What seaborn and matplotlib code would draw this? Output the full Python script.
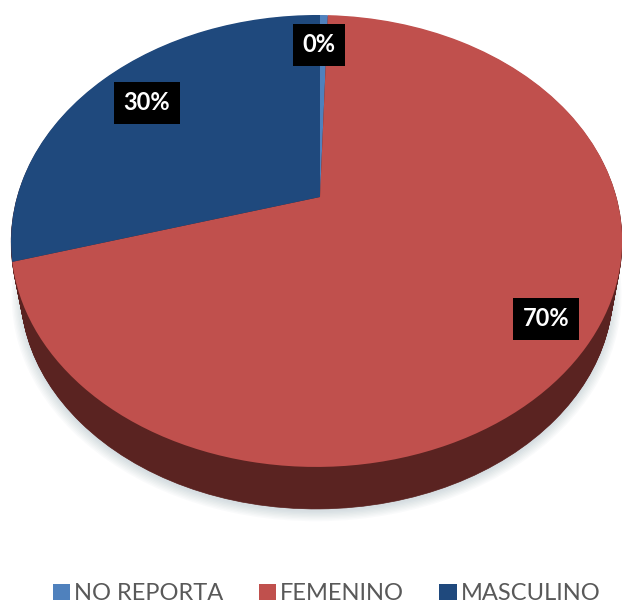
import matplotlib
matplotlib.use('Agg')
import matplotlib.pyplot as plt
import seaborn as sns
import numpy as np
from matplotlib.patches import Circle
from matplotlib.transforms import Transform

categories = ['NO REPORTA', 'FEMENINO', 'MASCULINO']
values = [0.5, 70.0, 29.5]
colors = ['#4F81BD', '#C0504D', '#1F497D']
label_pos = [(319, 45), (546, 319), (147, 103)]

side_color = '#5A2321'
depth = 52
bottom_radius = 0.97


class Perspective(Transform):
    # tilts the unit circle of the pie, the far side gets squeezed like in a 3D pie
    input_dims = 2
    output_dims = 2

    def __init__(self, shift=0):
        super().__init__()
        self.shift = shift

    def transform_non_affine(self, points):
        u, v = points[:, 0], points[:, 1]
        w = 1 + 0.1945 * v + 0.011 * u
        return np.column_stack((320 + 299.7 * u / w, 197 + self.shift - 217.4 * v / w))


sns.set_theme(style='white')
plt.rcParams['font.family'] = ['Lato', 'DejaVu Sans']

fig = plt.figure(figsize=(6.22, 6.05), dpi=100)
ax = fig.add_axes([0, 0, 1, 1])

# soft shadow under the pie
for i in range(8):
    ax.add_patch(Circle((0, 0), bottom_radius + 0.004 * i, fc='#5f7f8f', ec='none', alpha=0.03,
                        transform=Perspective(depth + 3) + ax.transData))

# side wall of the pie, the lower rim is a bit narrower
for offset in range(1, depth + 1):
    radius = 1 - (1 - bottom_radius) * offset / depth
    ax.add_patch(Circle((0, 0), radius, fc=side_color, ec=side_color, lw=0.5,
                        transform=Perspective(offset) + ax.transData))

wedges, _ = ax.pie(values, colors=sns.color_palette(colors), startangle=90, counterclock=False,
                   wedgeprops={'linewidth': 0})
for wedge in wedges:
    wedge.set_transform(Perspective() + ax.transData)

ax.set_aspect('auto')
ax.set_xlim(0, 622)
ax.set_ylim(605, 0)
ax.axis('off')

for val, (x, y) in zip(values, label_pos):
    ax.text(x, y, f'{val:.0f}%', color='white', fontsize=17, fontweight='bold', ha='center', va='center',
            bbox=dict(fc='black', ec='none', pad=7))

ax.legend(wedges, categories, ncol=3, frameon=False, loc='lower center', bbox_to_anchor=(0.525, 0.001),
          fontsize=17, labelcolor='#595959', handlelength=0.75, handleheight=0.65,
          handletextpad=0.15, columnspacing=1.5, borderpad=0, borderaxespad=0)

plt.savefig('out.png', dpi=100)
